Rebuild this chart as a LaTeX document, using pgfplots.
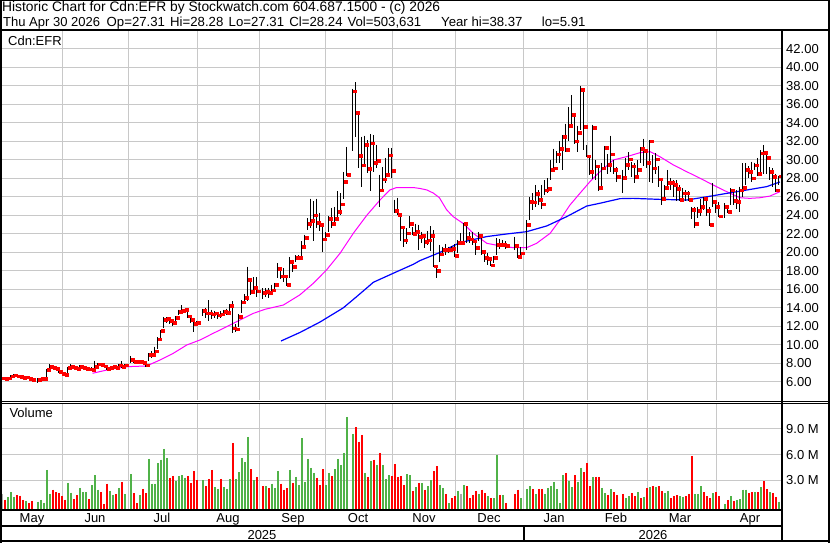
\documentclass[border=0pt]{standalone}
\usepackage{fontspec}
\setmainfont{Liberation Sans}
\usepackage{pgfplots}
\usepackage{pgfplotstable}
\pgfplotsset{compat=1.18}
\definecolor{gridgray}{RGB}{200,200,200}
\definecolor{vgreen}{RGB}{80,178,72}
\definecolor{vred}{RGB}{255,0,0}
\definecolor{vgray}{RGB}{170,170,170}
\definecolor{mam}{RGB}{255,0,255}
\definecolor{mab}{RGB}{0,0,255}
\newcommand{\tf}{\fontsize{13}{15}\selectfont}
\newcommand{\hf}{\fontsize{13.2}{16}\selectfont}
\newcommand{\lf}{\fontsize{13.8}{16}\selectfont}
\newcommand{\df}{\fontsize{13}{15}\selectfont}

\pgfplotstableread{
i hi lo cl
1 6.6 6.2 6.4
2 6.5 6.2 6.3
3 6.5 6.2 6.4
4 6.7 6.4 6.6
5 6.8 6.5 6.7
6 6.8 6.5 6.6
7 6.7 6.45 6.55
8 6.6 6.35 6.45
9 6.6 6.35 6.5
10 6.45 6.25 6.3
11 6.35 6.1 6.2
13 6.4 5.91 6.25
14 6.45 6.2 6.3
15 6.45 6.2 6.35
16 7.4 6.5 7.3
17 7.95 7.2 7.6
18 7.7 7.35 7.5
19 7.6 7.3 7.4
20 7.4 7.0 7.1
21 7.1 6.8 6.9
22 6.95 6.7 6.8
23 7.6 6.8 7.5
24 7.9 7.4 7.65
25 7.8 7.4 7.55
26 7.7 7.35 7.45
27 7.8 7.45 7.6
28 7.7 7.35 7.5
29 7.6 7.3 7.4
30 7.5 7.25 7.35
31 7.55 7.15 7.3
32 8.3 7.3 7.6
33 8.0 7.5 7.9
34 8.0 7.7 7.85
35 7.9 7.6 7.7
36 7.8 7.3 7.4
37 7.6 7.3 7.5
38 7.7 7.45 7.6
39 7.8 7.45 7.55
40 7.95 7.5 7.8
41 8.2 7.45 7.6
42 7.9 7.55 7.8
44 8.8 8.0 8.4
45 8.4 8.05 8.2
46 8.3 8.0 8.15
47 8.35 8.0 8.2
48 8.3 7.9 8.1
49 8.2 7.6 7.8
50 9.1 8.3 8.9
51 9.3 8.6 8.95
52 9.8 8.9 9.3
53 10.8 9.5 10.6
54 11.6 10.5 11.5
55 13.0 11.8 12.7
56 13.0 12.4 12.8
57 12.9 12.2 12.6
58 12.7 12.0 12.4
59 13.1 12.6 12.9
60 13.8 13.2 13.6
61 14.3 13.4 13.7
62 13.9 13.4 13.8
63 13.7 12.9 13.1
64 13.1 12.4 12.7
65 12.6 11.4 12.3
66 12.6 12.0 12.4
68 13.9 13.1 13.7
69 14.0 12.9 13.4
70 14.8 12.6 13.4
71 13.8 12.8 13.3
72 13.7 12.9 13.4
73 13.5 12.8 13.2
74 13.6 12.9 13.3
75 13.8 13.1 13.6
76 13.9 13.2 13.5
77 14.4 13.2 14.2
78 14.7 11.3 11.8
79 12.2 11.4 11.7
80 13.3 11.9 13.0
81 14.8 13.4 14.6
82 15.5 14.5 15.1
83 18.45 14.7 17.0
84 17.2 15.4 15.75
85 17.3 15.6 16.2
86 17.3 15.2 15.8
88 16.1 14.9 15.6
89 16.1 15.2 15.75
90 16.1 15.1 15.6
91 16.5 15.4 15.9
92 16.7 15.75 16.5
93 18.8 17.2 18.2
94 18.1 17.1 17.4
95 18.3 16.8 17.4
96 17.4 16.4 16.5
97 19.5 17.2 19.0
98 19.2 17.9 18.45
99 19.7 19.0 19.4
100 19.7 19.2 19.4
101 21.2 19.5 20.6
102 21.9 20.6 21.6
103 23.7 22.4 23.1
104 25.8 22.6 23.4
105 25.5 21.2 24.0
106 25.8 22.6 23.2
107 24.3 22.3 23.0
108 22.8 20.0 21.4
109 22.2 21.3 21.9
110 23.9 22.2 23.6
111 24.8 22.6 23.1
112 24.9 23.1 23.6
113 26.6 23.6 24.4
114 26.4 24.0 25.2
115 28.7 25.8 27.6
116 31.4 28.2 28.4
118 37.7 30.9 37.4
119 38.37 32.5 35.1
120 35.2 29.1 30.45
121 32.5 27.1 29.4
122 32.6 29.5 31.6
123 32.1 28.6 29.0
124 32.8 26.6 31.8
125 32.7 28.7 29.7
126 31.6 29.1 29.9
127 28.4 24.9 26.7
128 29.2 26.7 27.9
129 30.2 27.5 28.4
130 31.3 28.3 30.5
131 31.3 28.0 28.8
132 25.7 24.2 24.5
133 25.9 24.0 24.1
134 24.0 21.2 22.7
135 22.6 20.6 21.3
136 22.6 20.9 22.05
137 23.9 22.6 23.1
138 22.7 21.9 22.0
139 23.1 21.9 22.2
140 23.0 20.25 21.7
141 22.2 21.0 21.8
142 21.9 20.5 21.15
143 22.3 20.8 21.3
144 22.8 20.1 21.8
145 22.4 18.4 18.5
146 18.4 17.2 18.0
147 20.8 19.0 19.8
148 20.6 19.9 20.3
149 20.9 19.7 20.3
150 20.6 19.9 20.3
151 20.7 20.05 20.4
152 20.9 19.5 19.6
153 21.3 19.9 21.0
154 22.1 20.8 21.0
155 23.2 21.0 23.1
156 22.8 21.0 21.6
157 22.2 21.0 21.4
158 22.2 20.8 21.2
159 21.3 19.7 20.5
160 22.2 21.2 21.8
161 21.7 19.7 20.1
162 20.2 19.0 19.4
163 19.9 18.6 19.3
164 19.5 18.5 18.6
165 19.6 18.8 19.4
166 21.5 19.7 20.8
167 21.4 20.4 20.8
168 21.3 20.6 20.8
169 21.2 20.4 20.7
172 21.7 20.3 20.7
173 20.8 19.35 19.5
174 20.6 19.5 19.9
176 23.5 20.3 22.95
177 26.0 23.5 25.5
178 26.4 24.6 25.4
179 27.3 24.9 26.3
180 26.7 25.1 25.7
181 27.3 24.65 25.2
182 27.8 26.2 26.7
183 28.0 26.4 26.9
184 30.0 27.8 28.9
185 31.2 28.9 29.1
186 30.9 29.7 30.6
187 32.0 29.6 31.2
188 32.7 28.9 32.5
189 33.9 30.8 31.1
190 35.7 32.0 33.7
191 37.0 33.5 34.9
192 34.7 31.7 32.0
193 33.7 30.8 32.9
194 37.98 33.2 37.6
195 37.4 31.1 33.6
196 31.6 30.3 30.4
197 30.5 28.4 28.7
198 33.8 27.9 33.5
199 30.0 27.8 29.3
200 29.4 26.6 27.0
201 29.7 27.1 29.1
202 31.5 29.2 31.3
203 30.6 28.5 29.5
204 32.6 28.7 30.6
205 30.0 28.5 28.9
206 29.2 27.6 28.2
208 28.9 26.4 28.1
209 30.2 28.2 29.5
210 30.8 28.9 30.05
211 29.8 28.1 29.3
212 29.6 27.5 28.2
213 30.0 28.2 28.9
214 31.4 29.6 31.2
215 32.3 29.3 31.0
216 30.7 29.1 29.7
217 32.1 27.6 32.0
218 30.5 27.5 29.1
219 30.7 28.5 30.05
220 29.3 27.1 27.9
221 28.0 25.1 25.8
222 27.3 26.0 27.0
223 28.9 26.9 27.5
224 28.0 26.7 27.5
225 27.8 26.0 27.3
226 27.8 25.5 26.9
227 27.3 25.5 25.7
228 26.9 25.5 26.4
229 26.7 25.5 26.4
230 26.6 25.5 25.7
231 24.9 23.6 24.6
232 24.9 22.6 23.1
233 24.9 23.7 24.5
234 25.8 23.9 24.9
235 26.0 24.6 25.8
236 25.8 23.9 24.5
237 24.9 22.8 23.0
238 27.5 24.9 25.5
239 25.65 24.2 24.9
240 25.4 23.8 23.9
242 25.3 23.7 24.9
243 25.1 24.3 24.4
244 26.9 25.1 26.7
245 26.7 25.1 25.6
246 26.7 24.7 25.5
247 27.1 24.4 26.7
248 29.6 26.0 27.0
249 29.6 27.3 28.9
250 29.3 28.0 28.7
251 29.8 27.6 28.0
252 29.7 28.9 29.4
253 30.2 28.2 28.5
254 31.05 28.35 30.7
255 31.6 28.5 30.8
256 30.5 28.5 30.2
257 29.2 27.8 28.7
258 29.1 27.1 28.2
259 28.5 26.5 26.7
260 28.28 27.31 28.24
}\price

\pgfplotstableread{
i v c
1 1.4 2
2 0.74 0
3 1.05 1
4 1.6 1
5 1.05 1
6 1.3 0
7 1.2 0
8 0.7 0
9 0.6 1
10 0.35 0
11 0.6 0
13 0.5 1
14 0.7 1
15 0.35 1
16 4.2 1
17 1.4 1
18 1.9 0
19 1.6 0
20 1.5 0
21 1.2 0
22 0.74 0
23 2.7 1
24 1.55 1
25 0.8 0
26 1.3 0
27 2.1 1
28 1.6 1
29 1.6 1
30 0.8 0
31 2.4 1
32 3.6 1
33 1.9 1
34 1.6 0
35 0.25 0
36 2.6 0
37 1.75 1
38 1.3 1
39 1.4 0
40 2.1 1
41 2.8 0
42 1.4 1
44 3.7 1
45 1.5 0
46 0.3 0
47 1.3 1
48 2.0 0
49 1.5 0
50 5.5 1
51 2.6 1
52 2.6 1
53 5.0 1
54 5.4 1
55 6.65 1
56 5.6 1
57 3.3 0
58 3.5 0
59 2.9 1
60 3.5 1
61 3.6 1
62 3.3 1
63 3.5 0
64 2.7 0
65 4.1 0
66 3.0 0
68 3.0 1
69 2.3 0
70 3.15 0
71 4.2 0
72 2.2 1
73 2.0 1
74 3.15 0
75 2.2 1
76 2.0 1
77 3.15 1
78 7.35 0
79 3.15 1
80 3.95 1
81 5.6 1
82 5.1 1
83 8.05 1
84 4.3 0
85 3.0 1
86 3.4 0
88 2.3 0
89 2.3 1
90 2.1 0
91 2.6 1
92 2.1 1
93 4.1 1
94 2.6 0
95 1.9 0
96 2.1 0
97 4.2 1
98 2.7 0
99 3.4 1
100 2.45 1
101 7.9 1
102 2.8 1
103 5.5 1
104 4.45 1
105 3.85 1
106 3.3 0
107 2.45 0
108 4.3 0
109 2.45 1
110 3.85 1
111 3.5 0
112 4.3 1
113 5.5 1
114 4.8 1
115 6.2 1
116 10.4 1
118 8.4 1
119 9.2 0
120 7.5 0
121 8.3 0
122 3.85 1
123 3.4 0
124 5.25 1
125 5.4 0
126 4.8 1
127 6.2 0
128 4.8 1
129 3.15 1
130 3.6 1
131 3.5 0
132 4.9 0
133 3.4 0
134 3.5 0
135 2.45 0
136 3.7 1
137 3.6 1
138 1.75 0
139 2.2 1
140 2.7 0
141 2.7 1
142 1.9 0
143 2.3 1
144 3.0 1
145 4.1 0
146 4.65 0
147 2.45 1
148 2.1 1
149 1.4 0
150 0.3 1
151 0.93 0
152 1.15 0
153 1.75 1
154 1.4 2
155 2.45 1
156 2.3 0
157 0.93 0
158 1.3 0
159 1.75 0
160 1.4 1
161 1.9 0
162 1.5 0
163 1.15 1
164 0.93 0
165 0.93 1
166 5.95 1
167 1.3 0
168 1.3 1
169 0.35 0
172 1.4 0
173 1.9 0
174 0.93 1
176 2.0 1
177 2.3 1
178 2.0 0
179 1.4 1
180 2.0 0
181 2.0 0
182 1.4 1
183 2.1 1
184 2.3 1
185 2.8 1
186 2.0 1
187 0.35 1
188 3.6 1
189 3.85 0
190 2.9 1
191 2.2 1
192 3.6 0
193 2.8 1
194 4.45 1
195 3.95 0
196 5.0 0
197 2.3 0
198 3.4 1
199 3.4 0
200 3.4 0
201 2.1 1
202 1.5 1
203 1.3 0
204 2.0 1
205 1.6 0
206 1.3 0
208 1.4 0
209 0.93 1
210 1.15 1
211 1.5 0
212 1.15 0
213 1.6 1
214 0.93 0
215 1.05 1
216 2.1 0
217 2.2 1
218 2.3 0
219 2.2 1
220 2.3 0
221 1.75 0
222 1.5 1
223 1.75 1
224 0.93 0
225 1.15 0
226 1.3 0
227 1.15 1
228 1.05 1
229 1.15 0
230 1.4 0
231 5.85 0
232 1.4 1
233 1.4 1
234 2.3 1
235 1.6 0
236 1.15 0
237 0.93 0
238 1.5 1
239 1.6 0
240 1.15 0
242 0.25 1
243 0.7 0
244 1.15 1
245 0.6 0
246 0.7 1
247 0.8 1
248 1.9 1
249 1.9 1
250 1.5 0
251 1.6 0
252 1.6 1
253 1.6 0
254 2.2 1
255 2.9 0
256 2.0 0
257 1.6 1
258 1.5 0
259 1.05 0
260 0.5 1
}\vol

\pgfplotsset{errbar/.style 2 args={only marks, mark=*, mark size=0pt,
  mark options={draw opacity=0, fill opacity=0},
  error bars/.cd, y dir=minus, y explicit, error mark=none,
  error bar style={line width=#2, #1}}}

\begin{document}
\begin{tikzpicture}[x=1pt,y=1pt]
\path[use as bounding box] (0,0) rectangle (830,543);
\fill[white] (0,0) rectangle (830,543);

% ---------- price panel ----------
\begin{axis}[
  at={(2pt,143pt)}, anchor=south west, scale only axis,
  width=779pt, height=369pt,
  xmin=1.1, xmax=260.77, ymin=4.032, ymax=43.924,
  axis line style={draw=none}, tick style={draw=none},
  major tick length=0pt,
  xtick={21.2,43.2,66.3,87.1,109.1,131.2,152.2,175.1,196.2,216.2,239.2},
  xticklabels={},
  ytick={6,8,...,42},
  grid=major, major grid style={gridgray, line width=1pt},
  yticklabel pos=right,
  yticklabel style={anchor=west, inner sep=0pt, xshift=5pt, font=\tf},
  yticklabel={\pgfmathprintnumber[fixed,fixed zerofill,precision=2]{\tick}},
  /pgf/number format/assume math mode=true,
]
\addplot[mam, line width=1pt, forget plot] coordinates {
(31.3,6.92) (37.1,7.35) (43.2,7.64) (49.3,7.71) (53.8,8.36) (58.2,9.08) (62.7,9.98) (67.1,10.52) (71.5,11.24) (76,11.96) (80.4,12.68) (84.9,13.4) (88.8,13.84) (94.9,14.3) (100.4,15.4) (104.9,16.65) (109.3,18.1) (113.8,19.9) (118.2,22.05) (122.7,24.0) (127.1,25.65) (130.4,26.74) (132.6,27.0) (138.2,27.0) (140.4,26.9) (142.7,26.74) (144.9,26.4) (146.9,25.9) (149.3,24.6) (151.5,23.85) (154.9,23.1) (158.2,22.05) (162.7,20.97) (167.1,20.7) (171.5,20.5) (176,20.5) (179.3,20.97) (183.8,22.05) (187.1,23.5) (190.4,25.1) (193.8,26.4) (197.1,27.64) (200.4,28.7) (204.9,29.98) (209.3,30.34) (213.8,30.77) (217.1,30.88) (220.4,30.34) (224.9,29.44) (229.3,28.72) (233.8,28.0) (238.2,27.27) (242.7,26.55) (247.1,25.9) (250.4,25.83) (253.8,25.9) (257.1,26.08) (260.4,26.55)};
\addplot[mab, line width=1.2pt, forget plot] coordinates {
(94.1,10.41) (100.4,11.33) (107.1,12.46) (114.8,13.98) (119.3,15.2) (124.9,16.76) (131.5,17.73) (138.2,18.7) (140.4,19.1) (146.9,19.96) (153.8,21.05) (162.7,21.7) (169.3,21.98) (176,22.23) (182.7,22.85) (189.3,23.85) (196,25.0) (200.4,25.3) (207.1,25.8) (211.5,25.83) (220.4,25.72) (229.3,25.65) (236,26.0) (242.7,26.37) (249.3,26.73) (256,27.1) (260.4,27.6)};
% high-low bars
\addplot[errbar={black}{1.1pt}]
  table[x=i, y=hi, y error minus expr=\thisrow{hi}-\thisrow{lo}] {\price};
% close ticks (drawn just right of each bar)
\addplot[vred, only marks, mark=square*, mark size=1.35pt,
  every mark/.append style={fill=vred, draw=none, solid}]
  table[x expr=\thisrow{i}+0.6, y=cl] {\price};
\end{axis}

% ---------- volume panel ----------
\begin{axis}[
  at={(2pt,33.7pt)}, anchor=south west, scale only axis,
  width=779pt, height=104.8pt,
  xmin=1.1, xmax=260.77, ymin=-0.385, ymax=11.84,
  axis line style={draw=none}, tick style={draw=none},
  major tick length=0pt,
  xtick={21.2,43.2,66.3,87.1,109.1,131.2,152.2,175.1,196.2,216.2,239.2},
  xticklabels={},
  ytick={3,6,9},
  grid=major, major grid style={gridgray, line width=1pt},
  yticklabel pos=right,
  yticklabel style={anchor=west, inner sep=0pt, xshift=5pt, font=\tf},
  yticklabel={\pgfmathprintnumber[fixed,fixed zerofill,precision=1]{\tick} M},
  /pgf/number format/assume math mode=true,
]
\addplot[errbar={vgreen}{2pt}]
  table[x=i, y=v, y error minus expr=\thisrow{v}+1, restrict expr to domain={\thisrow{c}}{0.5:1.5}] {\vol};
\addplot[errbar={vred}{2pt}]
  table[x=i, y=v, y error minus expr=\thisrow{v}+1, restrict expr to domain={\thisrow{c}}{-0.5:0.5}] {\vol};
\addplot[errbar={vgray}{2pt}]
  table[x=i, y=v, y error minus expr=\thisrow{v}+1, restrict expr to domain={\thisrow{c}}{1.5:2.5}] {\vol};
\end{axis}

% ---------- frame ----------
\draw[line width=2pt] (1,0) -- (1,543);
\draw[line width=1.5pt] (0,542.3) -- (830,542.3);
\draw[line width=1.7pt] (829.1,0) -- (829.1,543);
\draw[line width=2pt] (0,2) -- (830,2);
\draw[line width=2pt] (0,512.7) -- (830,512.7);
\draw[line width=1.3pt] (0,141.7) -- (830,141.7);
\draw[line width=1.2pt] (0,139.2) -- (830,139.2);
\draw[line width=1.8pt] (0,32.8) -- (781.8,32.8);
\draw[line width=1.8pt] (0,17.1) -- (781.8,17.1);
\draw[line width=1.7pt] (781.8,2) -- (781.8,512.7);
\draw[line width=1.8pt] (524,2) -- (524,17.1);

% ---------- texts ----------
\node[anchor=base west, inner sep=0pt, font=\lf] at (2,531.8) {Historic Chart for Cdn:EFR by Stockwatch.com 604.687.1500 - (c) 2026};
\node[anchor=base west, inner sep=0pt, font=\df] at (3,516.3) {Thu Apr 30 2026};
\node[anchor=base west, inner sep=0pt, font=\hf] at (106.5,516.3) {Op=27.31};
\node[anchor=base west, inner sep=0pt, font=\hf] at (170,516.3) {Hi=28.28};
\node[anchor=base west, inner sep=0pt, font=\hf] at (228.5,516.3) {Lo=27.31};
\node[anchor=base west, inner sep=0pt, font=\hf] at (289.2,516.3) {Cl=28.24};
\node[anchor=base west, inner sep=0pt, font=\hf] at (347.3,516.3) {Vol=503,631};
\node[anchor=base west, inner sep=0pt, font=\hf] at (441,516.3) {Year hi=38.37};
\node[anchor=base west, inner sep=0pt, font=\hf] at (541.7,516.3) {lo=5.91};

\node[anchor=base west, inner sep=0pt, font=\tf] at (8,497.5) {Cdn:EFR};
\node[anchor=base west, inner sep=0pt, font=\tf] at (9.3,125.7) {Volume};

\foreach \m/\x in {May/32,Jun/95,Jul/162,Aug/228,Sep/293,Oct/358,Nov/424,Dec/489,Jan/554,Feb/616,Mar/680,Apr/750}
  \node[anchor=base, inner sep=0pt, font=\tf] at (\x,20.5) {\m};
\node[anchor=base, inner sep=0pt, font=\tf] at (262,3.7) {2025};
\node[anchor=base, inner sep=0pt, font=\tf] at (653,3.7) {2026};
\end{tikzpicture}
\end{document}
